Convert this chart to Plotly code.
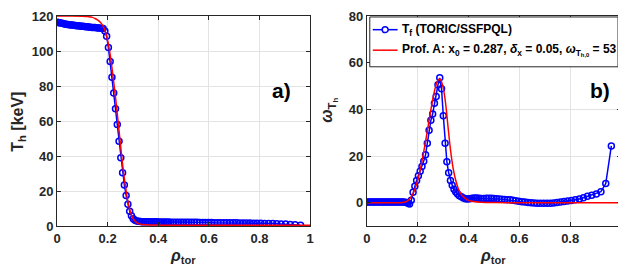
import plotly.graph_objects as go

# ---------------- data ----------------
rho = [0.000, 0.006, 0.012, 0.018, 0.024, 0.030, 0.036, 0.042, 0.048, 0.054,
       0.060, 0.066, 0.072, 0.078, 0.084, 0.090, 0.096, 0.102, 0.108, 0.114,
       0.120, 0.126, 0.132, 0.138, 0.144, 0.150, 0.156, 0.162,
       0.168, 0.175, 0.182, 0.189, 0.196, 0.203, 0.210, 0.217, 0.224, 0.231,
       0.238, 0.245, 0.252, 0.259, 0.266, 0.273, 0.280, 0.287, 0.294, 0.301,
       0.308, 0.315, 0.322, 0.329, 0.336, 0.343, 0.350, 0.357, 0.364, 0.372,
       0.380, 0.388, 0.396, 0.405, 0.414, 0.423, 0.432, 0.441, 0.450, 0.460,
       0.470, 0.480, 0.490, 0.500, 0.510, 0.520, 0.531, 0.542, 0.553, 0.564,
       0.575, 0.586, 0.598, 0.610, 0.622, 0.634, 0.646, 0.658, 0.670, 0.683,
       0.696, 0.709, 0.722, 0.735, 0.748, 0.762, 0.776, 0.790, 0.805, 0.820,
       0.836, 0.852, 0.868, 0.885, 0.903, 0.921, 0.940, 0.962]

T_toric = [116.5, 116.3, 116.1, 115.9, 115.7, 115.5, 115.3, 115.2, 115.0, 114.9,
           114.8, 114.7, 114.6, 114.5, 114.4, 114.3, 114.2, 114.1, 114.0, 113.9,
           113.8, 113.7, 113.6, 113.5, 113.5, 113.4, 113.3, 113.2,
           113.1, 113.0, 112.8, 111.5, 108.4, 102.0, 94.0, 85.0, 76.0, 67.0,
           58.0, 48.5, 39.0, 30.5, 23.5, 17.5, 12.5, 8.5, 5.8, 4.2,
           3.3, 2.9, 2.7, 2.6, 2.5, 2.5, 2.5, 2.4, 2.4, 2.4,
           2.4, 2.4, 2.4, 2.3, 2.3, 2.3, 2.3, 2.3, 2.2, 2.2,
           2.2, 2.2, 2.2, 2.2, 2.1, 2.1, 2.1, 2.1, 2.1, 2.0,
           2.0, 2.0, 2.0, 2.0, 1.9, 1.9, 1.9, 1.9, 1.8, 1.8,
           1.8, 1.8, 1.7, 1.7, 1.7, 1.7, 1.6, 1.6, 1.6, 1.5,
           1.5, 1.4, 1.3, 1.2, 1.1, 0.9, 0.7, 0.4]

omega_toric = [0.3, 0.3, 0.3, 0.3, 0.3, 0.3, 0.3, 0.3, 0.3, 0.3,
               0.3, 0.3, 0.3, 0.3, 0.3, 0.3, 0.3, 0.3, 0.3, 0.3,
               0.3, 0.3, 0.3, 0.3, 0.3, 0.2, 0.1, -0.3,
               -0.6, 1.0, 4.5, 7.0, 9.5, 11.5, 13.5, 15.5, 17.8, 20.5,
               25.5, 31.0, 35.3, 38.0, 42.6, 45.5, 50.5, 53.5, 48.8, 37.2,
               25.5, 17.5, 12.8, 9.5, 7.5, 5.8, 4.6, 3.7, 3.0, 2.5,
               2.0, 1.7, 1.6, 1.7, 1.9, 2.0, 2.0, 1.9, 1.8, 1.8,
               1.9, 1.9, 1.9, 1.8, 1.7, 1.6, 1.5, 1.4, 1.3, 1.2,
               1.0, 0.8, 0.6, 0.4, 0.3, 0.1, 0.0, -0.1, -0.2, -0.3,
               -0.3, -0.3, -0.2, -0.1, 0.1, 0.3, 0.5, 0.7, 0.9, 1.2,
               1.6, 2.1, 2.7, 3.2, 3.7, 4.7, 8.2, 24.3]

rho_fit = [0.00, 0.05, 0.10, 0.12, 0.14, 0.15, 0.16, 0.17, 0.18, 0.19,
           0.20, 0.21, 0.22, 0.23, 0.24, 0.25, 0.26, 0.27, 0.28, 0.285,
           0.29, 0.30, 0.31, 0.32, 0.33, 0.34, 0.35, 0.36, 0.37, 0.38,
           0.39, 0.40, 0.42, 0.45, 0.50, 0.60, 0.70, 0.80, 0.90, 1.00]

T_fit = [120.0, 120.0, 119.9, 119.7, 119.2, 118.6, 117.8, 116.6, 114.8, 111.5,
         106.0, 98.0, 87.0, 75.0, 61.5, 47.5, 34.0, 23.0, 14.0, 10.8,
         8.0, 4.3, 2.5, 1.5, 1.0, 0.8, 0.7, 0.65, 0.6, 0.6,
         0.55, 0.55, 0.5, 0.5, 0.5, 0.5, 0.5, 0.5, 0.5, 0.5]

omega_fit = [0.0, 0.0, 0.0, 0.0, 0.1, 0.3, 0.8, 1.8, 3.5, 6.0,
             9.5, 14.0, 19.5, 25.5, 32.0, 38.5, 44.5, 49.5, 52.5, 53.0,
             52.8, 49.5, 42.5, 32.0, 22.0, 14.5, 9.5, 6.0, 3.8, 2.5,
             1.6, 1.0, 0.5, 0.2, 0.05, 0.0, 0.0, 0.0, 0.0, 0.0]

x_ticks = [0, 0.2, 0.4, 0.6, 0.8, 1]
x_ticktext = ["0", "0.2", "0.4", "0.6", "0.8", "1"]
yL_ticks = [0, 20, 40, 60, 80, 100, 120]
yR_ticks = [0, 20, 40, 60, 80]

name_toric = "T<sub>f</sub> (TORIC/SSFPQL)"
name_fit = ("Prof. A: x<sub>0</sub> = 0.287, <i>δ</i><sub>x</sub> = 0.05, "
            "<i>ω</i><sub>T<sub>h,0</sub></sub> = 53")

# ---------------- figure ----------------
BLUE = "rgb(0,0,255)"
RED = "rgb(255,0,0)"
AX = "#262626"
GRID = "#e3e3e3"
FONT = "Liberation Sans"

fig = go.Figure()

marker = dict(symbol="circle-open", size=6, color=BLUE, line=dict(color=BLUE, width=1.5))

fig.add_trace(go.Scatter(x=rho, y=T_toric, mode="lines+markers", xaxis="x", yaxis="y",
                         line=dict(color=BLUE, width=1.5), marker=marker, showlegend=False))
fig.add_trace(go.Scatter(x=rho_fit, y=T_fit, mode="lines", xaxis="x", yaxis="y",
                         line=dict(color=RED, width=1.5, shape="spline"), showlegend=False))
fig.add_trace(go.Scatter(x=rho, y=omega_toric, mode="lines+markers", xaxis="x2", yaxis="y2",
                         line=dict(color=BLUE, width=1.5), marker=marker, name=name_toric,
                         showlegend=False))
fig.add_trace(go.Scatter(x=rho_fit, y=omega_fit, mode="lines", xaxis="x2", yaxis="y2",
                         line=dict(color=RED, width=1.5, shape="spline"), name=name_fit,
                         showlegend=False))

# page has an 8px body margin; figure is sized so that it fills the window
OFF = 8
FW, FH = 626 - OFF, 268 - OFF
ml, mr, mt, mb = 57 - OFF, 1, 11 - OFF, 42
pw = FW - ml - mr
ph = FH - mt - mb


def px(x):  # page pixel x -> paper
    return (x - OFF - ml) / pw


def py(y):  # page pixel y -> paper
    return (FH - mb - (y - OFF)) / ph


common = dict(showline=True, linecolor=AX, linewidth=1, mirror="ticks",
              ticks="inside", ticklen=4, tickcolor=AX, showgrid=True,
              gridcolor=GRID, gridwidth=1, zeroline=False, ticklabeloverflow="allow",
              tickfont=dict(family=FONT, size=13, color=AX, weight="bold"))
common_x = dict(range=[0, 1], tickvals=x_ticks, ticktext=x_ticktext, **common)

fig.update_layout(
    width=FW, height=FH,
    margin=dict(l=ml, r=mr, t=mt, b=mb, pad=0),
    paper_bgcolor="white", plot_bgcolor="white",
    font=dict(family=FONT, color=AX, weight="bold"),
    xaxis=dict(domain=[0, px(312)], anchor="y", **common_x),
    yaxis=dict(domain=[0, 1], anchor="x", range=[0, 120], tickvals=yL_ticks, **common),
    xaxis2=dict(domain=[px(369), px(625)], anchor="y2", **common_x),
    yaxis2=dict(domain=[0, 1], anchor="x2", range=[-10, 80], tickvals=yR_ticks, **common),
    showlegend=False,
)

# ---- legend box (drawn by hand to match the compact MATLAB legend) ----
fig.add_shape(type="rect", xref="paper", yref="paper",
              x0=px(372), x1=px(622), y0=py(63), y1=py(12),
              line=dict(color=AX, width=1), fillcolor="white", layer="above")
fig.add_shape(type="line", xref="paper", yref="paper",
              x0=px(375), x1=px(400), y0=py(25), y1=py(25),
              line=dict(color=BLUE, width=1.5), layer="above")
fig.add_shape(type="circle", xref="paper", yref="paper",
              x0=px(384.5), x1=px(390.5), y0=py(28), y1=py(22),
              line=dict(color=BLUE, width=1.5), fillcolor="white", layer="above")
fig.add_shape(type="line", xref="paper", yref="paper",
              x0=px(375), x1=px(400), y0=py(46), y1=py(46),
              line=dict(color=RED, width=1.5), layer="above")
leg_font = dict(family=FONT, size=12, color="black", weight="bold")
fig.add_annotation(text=name_toric, x=px(402), y=py(25), xref="paper", yref="paper",
                   xanchor="left", yanchor="middle", showarrow=False, font=leg_font)
fig.add_annotation(text=name_fit, x=px(402), y=py(46), xref="paper", yref="paper",
                   xanchor="left", yanchor="middle", showarrow=False, font=leg_font)

ann_font = dict(family=FONT, size=16, color=AX, weight="bold")
fig.add_annotation(text="T<sub>h</sub> [keV]", x=px(18), y=py(119), xref="paper", yref="paper",
                   xanchor="center", yanchor="middle",
                   textangle=-90, showarrow=False, font=ann_font)
fig.add_annotation(text="<i>ω</i><sub>T<sub>h</sub></sub>", x=px(331), y=py(108), xref="paper",
                   yref="paper", xanchor="center", yanchor="middle",
                   textangle=-90, showarrow=False, font=ann_font)
fig.add_annotation(text="<i>ρ</i><sub>tor</sub>", x=px(184), y=py(245), xref="paper", yref="paper",
                   xanchor="center", yanchor="top", showarrow=False, font=ann_font)
fig.add_annotation(text="<i>ρ</i><sub>tor</sub>", x=px(496), y=py(245), xref="paper", yref="paper",
                   xanchor="center", yanchor="top", showarrow=False, font=ann_font)
label_font = dict(family=FONT, size=21, color="black", weight="bold")
fig.add_annotation(text="a)", x=px(283), y=py(87), xref="paper", yref="paper",
                   xanchor="center", yanchor="middle", showarrow=False, font=label_font)
fig.add_annotation(text="b)", x=px(604), y=py(87), xref="paper", yref="paper",
                   xanchor="center", yanchor="middle", showarrow=False, font=label_font)

fig.write_html("out.html")
